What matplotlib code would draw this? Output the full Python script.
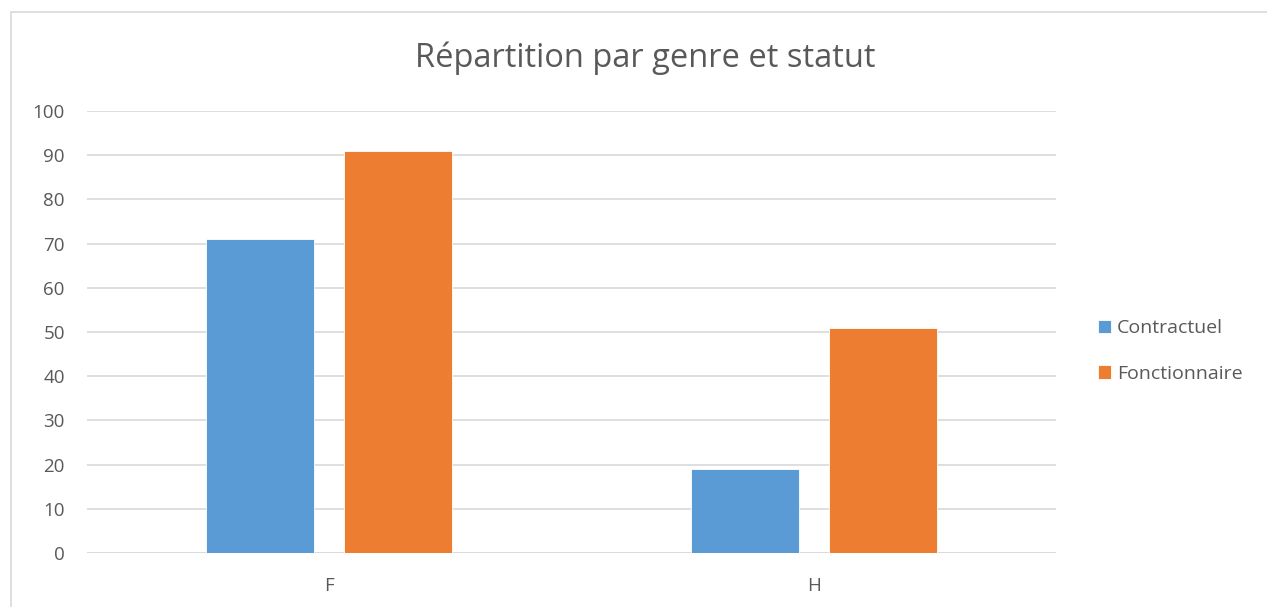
import numpy as np
import matplotlib.pyplot as plt
from matplotlib.patches import Rectangle

categories = ['F', 'H']
series = ['Contractuel', 'Fonctionnaire']
contractuel = [71, 19]
fonctionnaire = [91, 51]
colors = ['#5b9bd5', '#ed7d31']

plt.rcParams['font.family'] = ['Open Sans', 'DejaVu Sans']

fig = plt.figure(figsize=(12.67, 6.07), dpi=100)
ax = fig.add_axes([87 / 1267, 54 / 607, 969 / 1267, 442 / 607])

x = np.arange(len(categories))
w = 0.223
off = 0.1424
ax.bar(x - off, contractuel, w, color=colors[0], edgecolor='white', linewidth=0.6, label=series[0], zorder=3)
ax.bar(x + off, fonctionnaire, w, color=colors[1], edgecolor='white', linewidth=0.6, label=series[1], zorder=3)

ax.set_xlim(-0.5, 1.5)
ax.set_ylim(0, 100)
ax.set_yticks(range(0, 101, 10))
ax.set_xticks(x)
ax.set_xticklabels(categories)
ax.yaxis.grid(True, color='#d9d9d9', linewidth=1.2, zorder=0)
for s in ax.spines.values():
    s.set_visible(False)
ax.axhline(0, color='#d9d9d9', linewidth=1.2, zorder=2)
ax.tick_params(length=0, labelsize=13.5, colors='#595959')
ax.tick_params(axis='y', pad=16)
ax.tick_params(axis='x', pad=17)

fig.text(645 / 1267, 1 - 58 / 607, 'Répartition par genre et statut', fontsize=23.5,
         color='#595959', ha='center', va='center')

ax.legend(loc='center left', bbox_to_anchor=(1.025, 0.457), frameon=False,
          fontsize=14, labelcolor='#595959', handlelength=0.7, handleheight=0.7,
          handletextpad=0.3, labelspacing=1.4)

# chart frame
fig.patches.append(Rectangle((11 / 1267, -0.1), 1.2, (607 - 12) / 607 + 0.1,
                             transform=fig.transFigure, fill=False,
                             edgecolor='#d9d9d9', linewidth=1.2))

fig.savefig('out.png', dpi=100)
